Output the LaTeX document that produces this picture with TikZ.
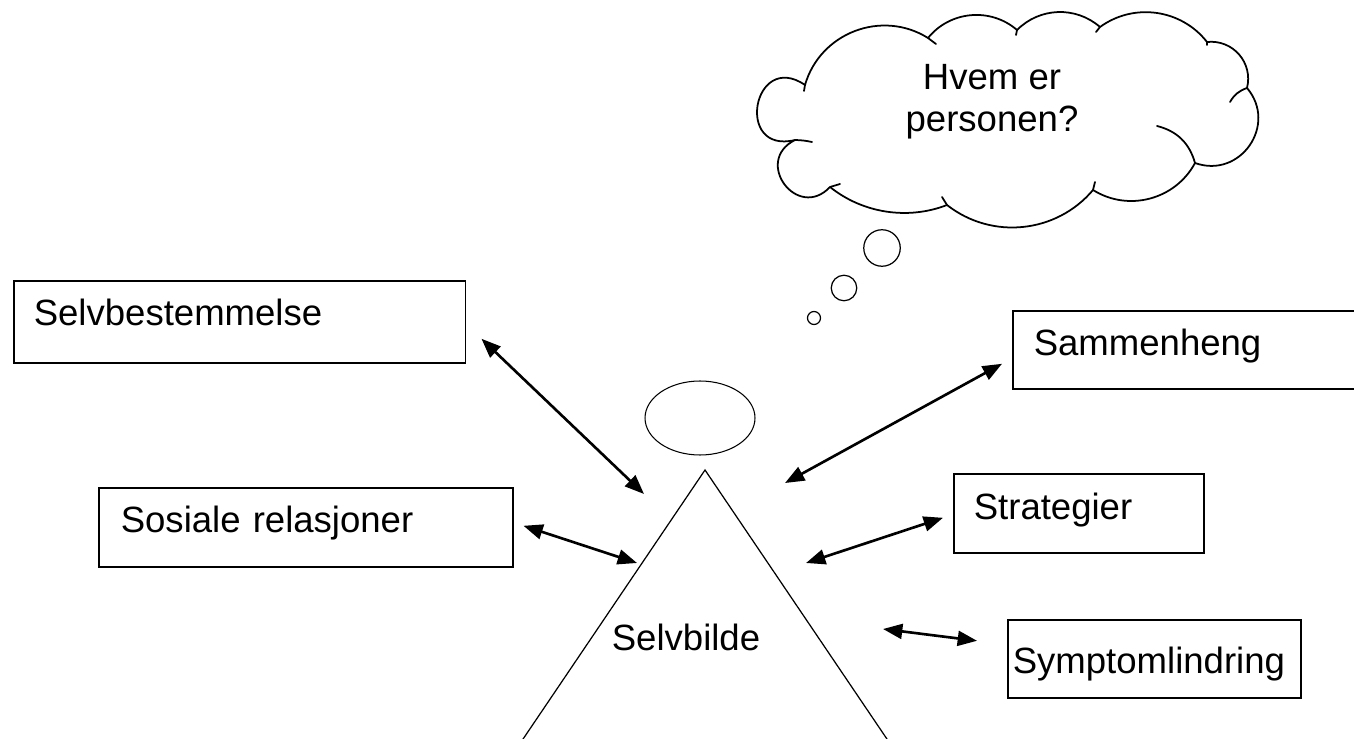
\documentclass[tikz,border=0pt]{standalone}
\usepackage{fontspec}
\setmainfont{Liberation Sans}
\usetikzlibrary{arrows.meta,shapes.geometric}

\begin{document}
\begin{tikzpicture}[
  x=0.02cm, y=-0.02cm,
  every node/.style={font=\fontsize{20.8}{23.9}\selectfont},
  textbox/.style={draw, line width=0.9pt, anchor=north west, align=left, inner xsep=0.4cm, inner ysep=0pt, text height=0.9cm, text depth=0.7cm},
  link/.style={{Triangle[length=11pt,width=8.5pt]}-{Triangle[length=11pt,width=8.5pt]}, line width=1.5pt},
  puff/.style={line width=1pt, line join=round, line cap=round},
  bubble/.style={draw, circle, line width=0.7pt, inner sep=0pt}
]
\useasboundingbox (0,0) rectangle (1354,739);
\clip (0,0) rectangle (1354,739);

% boxes
\node[textbox, text width=8.24cm, text depth=0.74cm] (selvbest) at (13,280) {Selvbestemmelse};
\node[textbox, text width=7.4cm, inner xsep=0.44cm, text depth=0.68cm] (sosiale) at (98,487) {Sosiale relasjoner};
\node[textbox, text width=7.16cm, inner xsep=0.42cm, text depth=0.66cm] (sammen) at (1012,310) {Sammenheng};
\node[textbox, text width=4.2cm, text height=0.92cm, text depth=0.66cm] (strat) at (953,473) {Strategier};
\node[textbox, text width=5.66cm, inner xsep=0.1cm, text height=1.08cm, text depth=0.48cm] (symptom) at (1007,619) {Symptomlindring};

% person
\node[draw, ellipse, line width=0.6pt, minimum width=2.2cm, minimum height=1.48cm, inner sep=0pt] (head) at (700,418) {};
\coordinate (top) at (705,470);
\draw[line width=0.7pt] (519,745) -- (top) -- (891,745);
\node (selvbilde) at (686,637) {Selvbilde};

% thought cloud
\draw[puff] (805,85) to[bend right=114, looseness=2.87] (795,140)
  to[bend right=100, looseness=2.07] (830,187)
  to[bend right=30, looseness=0.91] (947,205)
  to[bend right=44, looseness=0.99] (1093,190)
  to[bend right=47, looseness=1.01] (1195,163)
  to[bend right=75, looseness=1.35] (1247,88)
  to[bend right=55, looseness=1.09] (1207,42)
  to[bend right=44, looseness=0.99] (1100,27)
  to[bend right=43, looseness=0.99] (1017,30)
  to[bend right=46, looseness=1.0] (928,38)
  to[bend right=53, looseness=1.06] (805,85);
% small hooks where the puffs overlap
\draw[puff] (805,85) -- (804,91)
  (795,140) to[bend left=5] (812,142)
  (830,187) -- (840,184)
  (947,205) -- (942,197)
  (1093,190) -- (1095,182)
  (1195,163) to[bend right=30] (1157,126)
  (1247,88) to[bend right=20] (1230,102)
  (1207,42) -- (1207,45)
  (1100,27) -- (1096,32)
  (1017,30) -- (1016,35)
  (928,38) -- (936,44);
\node[align=center] (question) at (992,102) {Hvem er\\personen?};

\node[bubble, minimum size=0.73cm] (big) at (882,248) {};
\node[bubble, minimum size=0.51cm] (mid) at (844,288) {};
\node[bubble, minimum size=0.26cm] (small) at (814,318) {};

% arrows
\coordinate (p1) at (644,494);
\coordinate (p2) at (785,483);
\coordinate (p3) at (637,563);
\coordinate (p4) at (806,563);
\coordinate (p5) at (883,629);
\draw[link] ([shift={(15,17)}]selvbest.east) -- (p1);
\draw[link] ([shift={(-10,14)}]sammen.west) -- (p2);
\draw[link] ([shift={(10,-1.5)}]sosiale.east) -- (p3);
\draw[link] ([shift={(-10,4.5)}]strat.west) -- (p4);
\draw[link] ([shift={(-30,-18)}]symptom.west) -- (p5);
\end{tikzpicture}
\end{document}
